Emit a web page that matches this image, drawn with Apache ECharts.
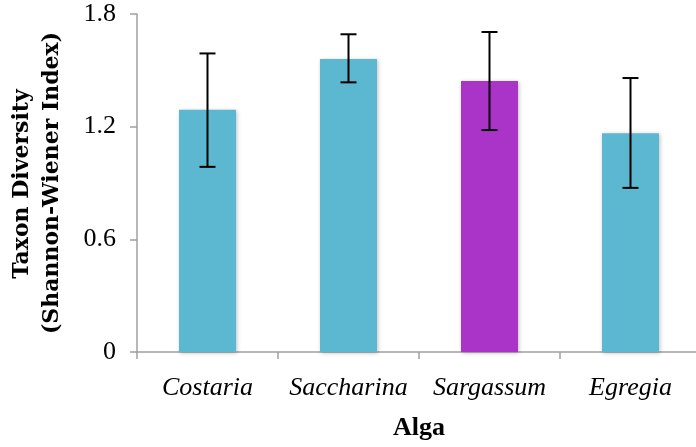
<!DOCTYPE html>
<html>
<head>
<meta charset="utf-8">
<script src="https://cdn.jsdelivr.net/npm/echarts@6/dist/echarts.min.js"></script>
<style>html,body{margin:0;padding:0;background:#fff}#c{width:696px;height:447px}</style>
</head>
<body>
<div id="c"></div>
<script>
const categories = ['Costaria', 'Saccharina', 'Sargassum', 'Egregia'];
const values = [1.29, 1.56, 1.443, 1.165];
const errLow = [0.986, 1.436, 1.182, 0.874];
const errHigh = [1.59, 1.692, 1.704, 1.459];
const barColors = ['#5BB8D0', '#5BB8D0', '#AA33C8', '#5BB8D0'];
const yTicks = [0, 0.6, 1.2, 1.8];

const FONT = 'Liberation Serif';
const chart = echarts.init(document.getElementById('c'), null, {renderer: 'canvas'});
chart.setOption({
  animation: false,
  grid: {left: 137, right: -5, top: 14, bottom: 95, containLabel: false, outerBoundsMode: 'none'},
  xAxis: {
    type: 'category',
    data: categories,
    name: 'Alga',
    nameLocation: 'middle',
    nameGap: 63,
    nameTextStyle: {fontFamily: FONT, fontWeight: 'bold', fontSize: 26, color: '#000'},
    axisLine: {lineStyle: {color: '#a0a0a0', width: 1.5}},
    axisTick: {show: true, length: 7, interval: 0, alignWithLabel: false, lineStyle: {color: '#a0a0a0', width: 1.5}},
    axisLabel: {fontFamily: FONT, fontStyle: 'italic', fontSize: 26, color: '#000', margin: 23, interval: 0, hideOverlap: false}
  },
  yAxis: {
    type: 'value',
    min: 0, max: 1.8, interval: 0.6,
    axisLine: {show: true, lineStyle: {color: '#a0a0a0', width: 1.5}},
    axisTick: {show: true, length: 7, lineStyle: {color: '#a0a0a0', width: 1.5}},
    splitLine: {show: false},
    axisLabel: {fontFamily: FONT, fontSize: 26, color: '#000', margin: 21,
      formatter: v => { const t = yTicks.find(x => Math.abs(x - v) < 1e-6); return t === 0 ? '0' : t.toFixed(1); }}
  },
  graphic: [
    {type: 'text', x: 22, y: 184, rotation: Math.PI / 2,
     style: {text: 'Taxon Diversity', fontFamily: 'DejaVu Serif', fontWeight: 'bold', fontSize: 22, fill: '#000', align: 'center', verticalAlign: 'middle'}},
    {type: 'text', x: 52, y: 183, rotation: Math.PI / 2,
     style: {text: '(Shannon-Wiener Index)', fontFamily: 'DejaVu Serif', fontWeight: 'bold', fontSize: 22, fill: '#000', align: 'center', verticalAlign: 'middle'}}
  ],
  series: [
    {
      type: 'bar',
      data: values.map((v, i) => ({value: v, itemStyle: {color: barColors[i]}})),
      barWidth: 57,
      itemStyle: {shadowColor: 'rgba(0,0,0,0.25)', shadowBlur: 4, shadowOffsetX: 1, shadowOffsetY: 1}
    },
    {
      type: 'custom',
      data: categories.map((c, i) => [i, errLow[i], errHigh[i]]),
      renderItem: function (params, api) {
        const lo = api.coord([api.value(0), api.value(1)]);
        const hi = api.coord([api.value(0), api.value(2)]);
        const hw = 8;
        const st = {stroke: '#000', lineWidth: 2};
        return {type: 'group', children: [
          {type: 'line', shape: {x1: hi[0], y1: hi[1], x2: lo[0], y2: lo[1]}, style: st},
          {type: 'line', shape: {x1: hi[0] - hw, y1: hi[1], x2: hi[0] + hw, y2: hi[1]}, style: st},
          {type: 'line', shape: {x1: lo[0] - hw, y1: lo[1], x2: lo[0] + hw, y2: lo[1]}, style: st}
        ]};
      },
      z: 5
    }
  ]
});
</script>
</body>
</html>
